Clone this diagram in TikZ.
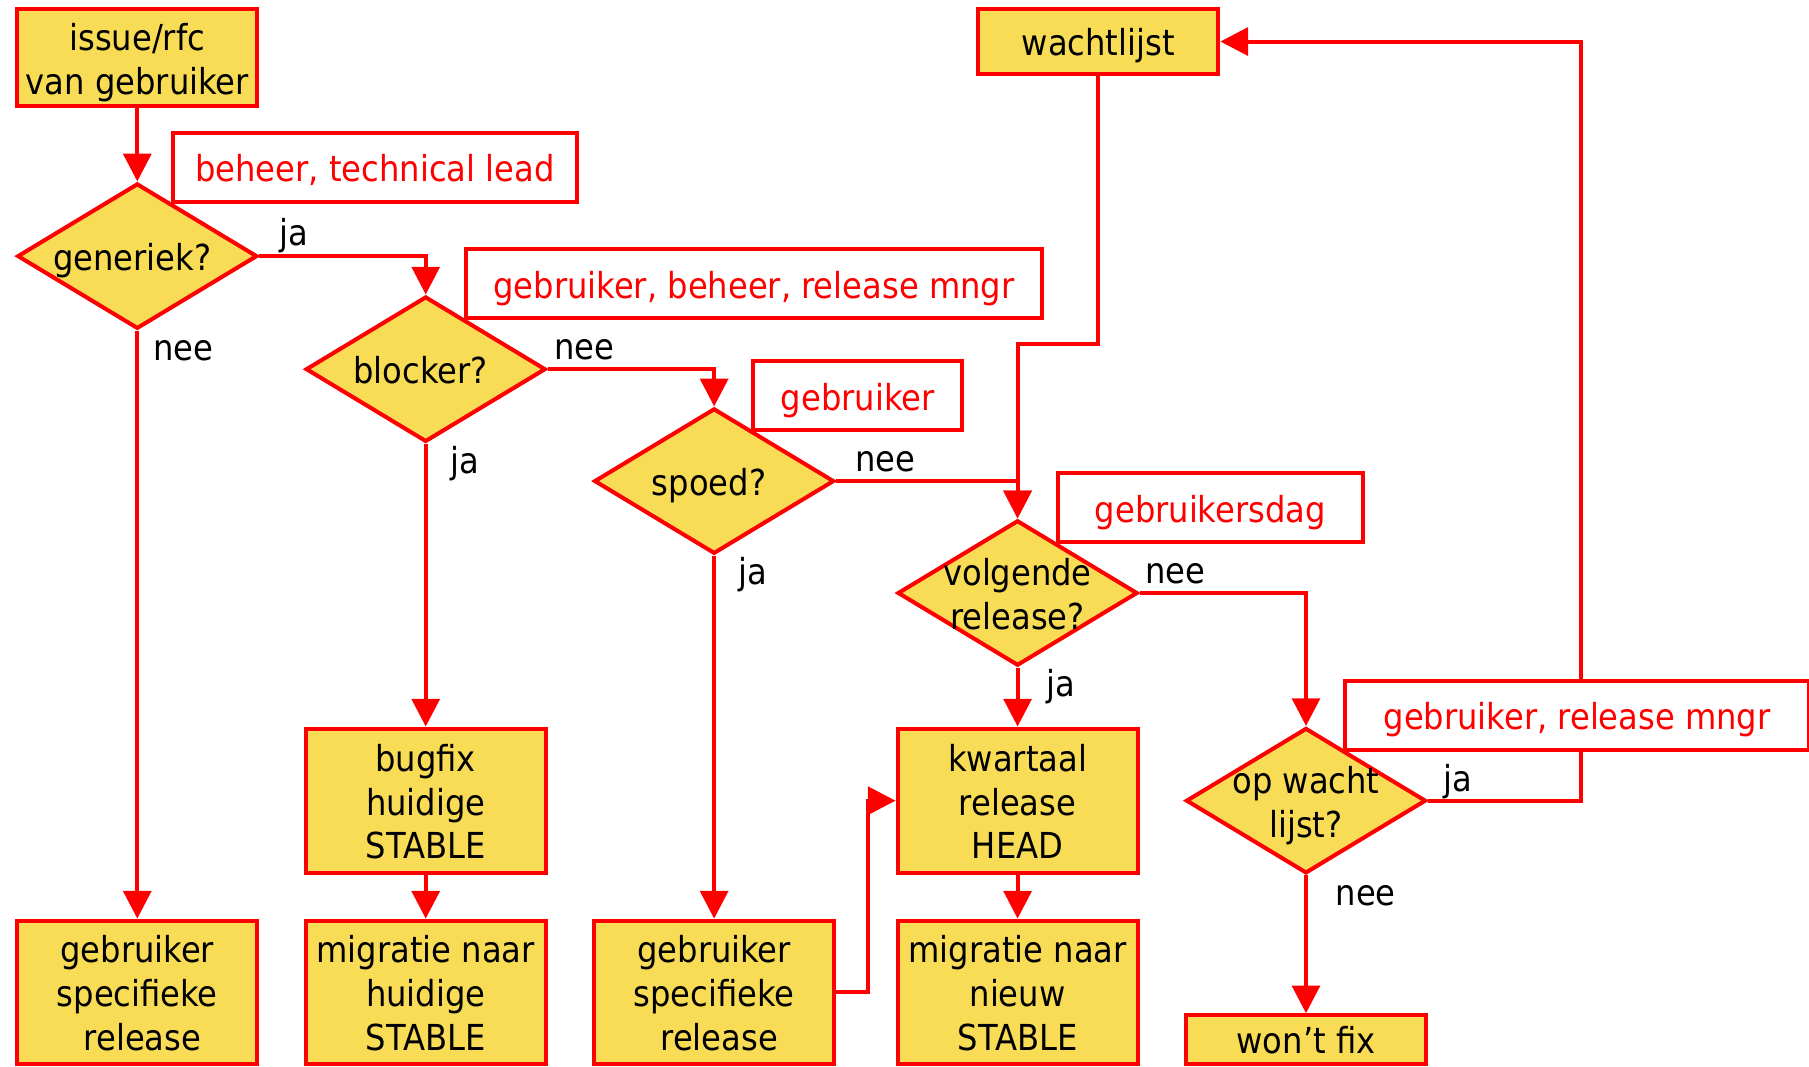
\documentclass[tikz,border=0pt]{standalone}
\usepackage{fontspec}
\setmainfont{DejaVu Sans Condensed}
\usetikzlibrary{shapes.geometric,positioning,arrows.meta,backgrounds}
\definecolor{flowred}{RGB}{255,0,0}
\definecolor{flowyellow}{RGB}{249,220,85}
\tikzset{>={Triangle[length=24pt,width=24pt]},
  block/.style={draw=flowred,fill=flowyellow,line width=3.5pt,minimum width=208pt,align=center,inner sep=0pt,text height=31pt,text depth=6pt},
  two lines/.style={text height=69pt},
  three lines/.style={text height=107pt},
  decision/.style 2 args={diamond,draw=flowred,fill=flowyellow,line width=3.5pt,minimum width=208pt,minimum height=126pt,inner sep=0pt,label={[align=center,text depth=6pt,text height=#1]center:#2}},
  role/.style={draw=flowred,fill=white,text=flowred,line width=3.5pt,minimum height=60pt,inner sep=0pt,text height=31pt,text depth=6pt},
  flow/.style={color=flowred,line width=3.5pt},
  answer/.style 2 args={anchor=base west,inner sep=0pt,text=black,at start,xshift=#1,yshift=#2},
  hv/.style={to path={-| (\tikztotarget) \tikztonodes}}}

\begin{document}
\begin{tikzpicture}[x=1pt,y=1pt,on grid,font=\fontsize{31}{38}\selectfont]
                   \useasboundingbox (0,0) rectangle (1568,-924);
                   \node[block,two lines,minimum height=84pt] (b_issue) at (119,-50) {issue/rfc\\van gebruiker};
                   \node[decision={31pt}{generiek?~}] (d_gen) [below=172pt of b_issue] {};
                   \node[decision={31pt}{blocker?~}] (d_blocker) [below right=98pt and 250pt of d_gen] {};
                   \node[decision={31pt}{spoed?~}] (d_spoed) [below right=97pt and 250pt of d_blocker] {};
                   \node[decision={69pt}{volgende\\release?}] (d_volg) [below right=97pt and 263pt of d_spoed] {};
                   \node[decision={69pt}{op wacht\\lijst?}] (d_wacht) [below right=180pt and 250pt of d_volg] {};
                   \node[block,minimum height=56pt] (b_wachtlijst) [above right=478pt and 70pt of d_volg] {wachtlijst};
                   \node[block,three lines,minimum height=125pt] (b_bugfix) [below=374pt of d_blocker] {bugfix\\huidige\\STABLE};
                   \node[block,three lines,minimum height=125pt] (b_kwartaal) [below=180pt of d_volg] {kwartaal\\release\\HEAD};
                   \node[block,three lines,minimum height=124pt] (b_spec1) [below=638pt of d_gen] {gebruiker\\specifieke\\~release};
                   \node[block,three lines,minimum height=124pt] (b_mig1) [below=166pt of b_bugfix] {migratie naar\\huidige\\STABLE};
                   \node[block,three lines,minimum height=124pt] (b_spec2) [below=443pt of d_spoed] {gebruiker\\specifieke\\~release};
                   \node[block,three lines,minimum height=124pt] (b_mig2) [below=166pt of b_kwartaal] {migratie naar\\nieuw\\STABLE};
                   \node[block,minimum height=42pt] (b_wontfix) [below=207pt of d_wacht] {won’t fix};
                   \begin{scope}[on background layer]
                    \path[->,flow]
                    (b_issue) edge (d_gen)
                    (d_gen) edge [hv] node [answer={16pt}{9pt}] {ja} (d_blocker)
                            edge node [answer={12pt}{-26pt}] {nee} (b_spec1)
                    (d_blocker) edge [hv] node [answer={4pt}{8pt}] {nee} (d_spoed)
                            edge node [answer={20pt}{-26pt}] {ja} (b_bugfix)
                    (d_spoed) edge [hv] node [answer={15pt}{8pt}] {nee} (d_volg)
                            edge node [answer={19pt}{-25pt}] {ja} (b_spec2)
                    (d_volg) edge [hv] node [answer={3pt}{8pt}] {nee} (d_wacht)
                            edge node [answer={23pt}{-25pt}] {ja} (b_kwartaal)
                    (d_wacht) edge node [answer={24pt}{-26pt}] {nee} (b_wontfix)
                    (b_bugfix) edge (b_mig1)
                    (b_kwartaal) edge (b_mig2);
                    \draw[->,flow] (b_wachtlijst.south) -- ++(0,-232) -| (d_volg);
                    \draw[->,flow] (d_wacht.east) -- node [answer={12pt}{8pt}] {ja} ++(133,0) |- (b_wachtlijst);
                    \draw[->,flow] (b_spec2.east) -- ++(28,0) |- (b_kwartaal);
                    \node[role,minimum width=350pt] (r_beheer) [above right=77pt and 206pt of d_gen] {beheer, technical lead};
                    \node[role,minimum width=499pt] (r_release) [above right=74pt and 284.5pt of d_blocker] {gebruiker, beheer, release mngr};
                    \node[role,minimum width=181pt] (r_gebruiker) [above right=74pt and 124.5pt of d_spoed] {gebruiker};
                    \node[role,minimum width=264pt] (r_dag) [above right=74pt and 167pt of d_volg] {gebruikersdag};
                    \node[role,minimum width=402pt] (r_mngr) [above right=74pt and 235pt of d_wacht] {gebruiker, release mngr};
                   \end{scope}
                \end{tikzpicture}
\end{document}
